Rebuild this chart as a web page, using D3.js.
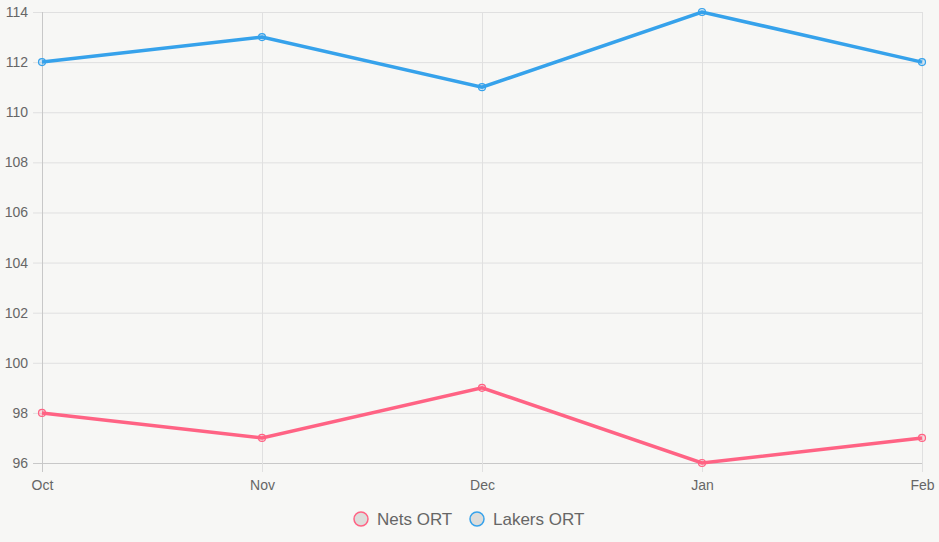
<!DOCTYPE html>
<html>
<head>
<meta charset="utf-8">
<script src="https://cdn.jsdelivr.net/npm/d3@7"></script>
<style>
  html, body { margin: 0; padding: 0; background: #f7f7f5; }
  svg { display: block; font-family: "Liberation Sans", Arial, sans-serif; }
</style>
</head>
<body>
<svg id="chart" width="939" height="542"></svg>
<script>
// Nets vs Lakers offensive rating by month
const months = ['Oct', 'Nov', 'Dec', 'Jan', 'Feb'];
const netsOrt = [98, 97, 99, 96, 97];
const lakersOrt = [112, 113, 111, 114, 112];
const yTicks = [96, 98, 100, 102, 104, 106, 108, 110, 112, 114];

const series = [
    { name: 'Nets ORT', values: netsOrt, color: '#ff6384', fill: 'rgba(255,99,132,0.2)' },
    { name: 'Lakers ORT', values: lakersOrt, color: '#36a2eb', fill: 'rgba(54,162,235,0.2)' }
];

const margin = { top: 12, right: 17, bottom: 79, left: 42 };
const width = 939 - margin.left - margin.right;
const height = 542 - margin.top - margin.bottom;

const svg = d3.select('#chart');
const g = svg.append('g').attr('transform', `translate(${margin.left},${margin.top})`);

const x = d3.scalePoint().domain(months).range([0, width]);
const y = d3.scaleLinear().domain([96, 114]).range([height, 0]);

// horizontal grid + tick labels
const yAxis = g.append('g')
    .call(d3.axisLeft(y).tickValues(yTicks).tickSize(-width).tickPadding(6));
yAxis.select('.domain').remove();
yAxis.selectAll('.tick line')
    .attr('x1', -9)
    .attr('stroke', d => d === 96 ? '#c8c8c8' : '#e0e0e0');
yAxis.selectAll('.tick text')
    .attr('x', -14)
    .attr('fill', '#666')
    .attr('font-size', 14);

// vertical grid + month labels
const xAxis = g.append('g')
    .attr('transform', `translate(0,${height})`)
    .call(d3.axisBottom(x).tickSize(-height).tickPadding(17));
xAxis.select('.domain').remove();
xAxis.selectAll('.tick line')
    .attr('y1', 9)
    .attr('stroke', (d, i) => i === 0 ? '#c8c8c8' : '#e0e0e0');
xAxis.selectAll('.tick text')
    .attr('fill', '#666')
    .attr('font-size', 14);

// lines
const line = d3.line()
    .x((d, i) => x(months[i]))
    .y(d => y(d));

series.forEach(s => {
    g.append('path')
        .datum(s.values)
        .attr('fill', 'none')
        .attr('stroke', s.color)
        .attr('stroke-width', 3.5)
        .attr('stroke-linejoin', 'miter')
        .attr('d', line);

    g.selectAll(null)
        .data(s.values)
        .enter()
        .append('circle')
        .attr('cx', (d, i) => x(months[i]))
        .attr('cy', d => y(d))
        .attr('r', 3.5)
        .attr('fill', s.fill)
        .attr('stroke', s.color)
        .attr('stroke-width', 1.2);
});

// legend
const legend = svg.append('g').attr('transform', 'translate(0,519)');
const legendX = [361, 477];
series.forEach((s, i) => {
    const item = legend.append('g').attr('transform', `translate(${legendX[i]},0)`);
    item.append('circle')
        .attr('r', 7)
        .attr('fill', '#dddddb')
        .attr('stroke', s.color)
        .attr('stroke-width', 1.5);
    item.append('text')
        .attr('x', 16)
        .attr('dy', '0.35em')
        .attr('fill', '#666')
        .attr('font-size', 17)
        .text(s.name);
});
</script>
</body>
</html>
